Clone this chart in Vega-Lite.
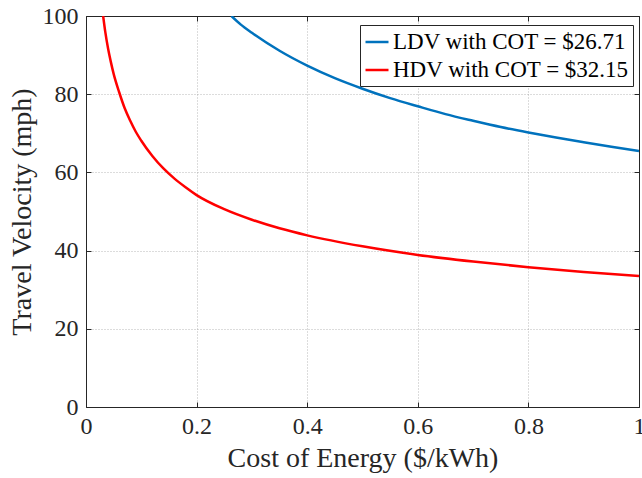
{
  "$schema": "https://vega.github.io/schema/vega-lite/v6.json",
  "width": 553,
  "height": 391,
  "autosize": {"type": "none"},
  "padding": {"left": 86, "top": 16, "right": 3, "bottom": 71},
  "background": "white",
  "config": {"font": "Liberation Serif", "view": {"stroke": null}},
  "data": {"values": [
    {"series": "LDV with COT = $26.71", "cost": 0.263, "velocity": 100},
    {"series": "LDV with COT = $26.71", "cost": 0.28, "velocity": 97.8},
    {"series": "LDV with COT = $26.71", "cost": 0.3, "velocity": 95.7},
    {"series": "LDV with COT = $26.71", "cost": 0.35, "velocity": 91.1},
    {"series": "LDV with COT = $26.71", "cost": 0.4, "velocity": 87.3},
    {"series": "LDV with COT = $26.71", "cost": 0.45, "velocity": 84.1},
    {"series": "LDV with COT = $26.71", "cost": 0.5, "velocity": 81.4},
    {"series": "LDV with COT = $26.71", "cost": 0.55, "velocity": 79.0},
    {"series": "LDV with COT = $26.71", "cost": 0.6, "velocity": 76.9},
    {"series": "LDV with COT = $26.71", "cost": 0.65, "velocity": 74.9},
    {"series": "LDV with COT = $26.71", "cost": 0.7, "velocity": 73.2},
    {"series": "LDV with COT = $26.71", "cost": 0.75, "velocity": 71.6},
    {"series": "LDV with COT = $26.71", "cost": 0.8, "velocity": 70.2},
    {"series": "LDV with COT = $26.71", "cost": 0.85, "velocity": 68.9},
    {"series": "LDV with COT = $26.71", "cost": 0.9, "velocity": 67.7},
    {"series": "LDV with COT = $26.71", "cost": 0.95, "velocity": 66.55},
    {"series": "LDV with COT = $26.71", "cost": 1.0, "velocity": 65.5},
    {"series": "HDV with COT = $32.15", "cost": 0.031, "velocity": 100},
    {"series": "HDV with COT = $32.15", "cost": 0.035, "velocity": 95.8},
    {"series": "HDV with COT = $32.15", "cost": 0.04, "velocity": 91.6},
    {"series": "HDV with COT = $32.15", "cost": 0.045, "velocity": 88.2},
    {"series": "HDV with COT = $32.15", "cost": 0.05, "velocity": 85.2},
    {"series": "HDV with COT = $32.15", "cost": 0.06, "velocity": 80.5},
    {"series": "HDV with COT = $32.15", "cost": 0.07, "velocity": 76.4},
    {"series": "HDV with COT = $32.15", "cost": 0.08, "velocity": 73.2},
    {"series": "HDV with COT = $32.15", "cost": 0.09, "velocity": 70.4},
    {"series": "HDV with COT = $32.15", "cost": 0.1, "velocity": 68.1},
    {"series": "HDV with COT = $32.15", "cost": 0.12, "velocity": 64.2},
    {"series": "HDV with COT = $32.15", "cost": 0.14, "velocity": 61.0},
    {"series": "HDV with COT = $32.15", "cost": 0.16, "velocity": 58.4},
    {"series": "HDV with COT = $32.15", "cost": 0.18, "velocity": 56.2},
    {"series": "HDV with COT = $32.15", "cost": 0.2, "velocity": 54.2},
    {"series": "HDV with COT = $32.15", "cost": 0.25, "velocity": 50.6},
    {"series": "HDV with COT = $32.15", "cost": 0.3, "velocity": 47.9},
    {"series": "HDV with COT = $32.15", "cost": 0.35, "velocity": 45.7},
    {"series": "HDV with COT = $32.15", "cost": 0.4, "velocity": 43.9},
    {"series": "HDV with COT = $32.15", "cost": 0.5, "velocity": 41.1},
    {"series": "HDV with COT = $32.15", "cost": 0.6, "velocity": 38.9},
    {"series": "HDV with COT = $32.15", "cost": 0.7, "velocity": 37.2},
    {"series": "HDV with COT = $32.15", "cost": 0.8, "velocity": 35.75},
    {"series": "HDV with COT = $32.15", "cost": 0.9, "velocity": 34.55},
    {"series": "HDV with COT = $32.15", "cost": 1.0, "velocity": 33.5}
  ]},
  "layer": [
    {
      "mark": {"type": "line", "strokeWidth": 2.5, "interpolate": "monotone", "clip": true},
      "encoding": {
        "x": {
          "field": "cost", "type": "quantitative",
          "scale": {"domain": [0, 1], "nice": false},
          "axis": {
            "values": [0, 0.2, 0.4, 0.6, 0.8, 1],
            "format": "~g",
            "title": "Cost of Energy ($/kWh)",
            "titleFont": "Liberation Serif", "titleFontSize": 28, "titleFontWeight": "normal",
            "titleColor": "#262626", "titlePadding": 6,
            "labelFont": "Liberation Serif", "labelFontSize": 24, "labelColor": "#262626",
            "labelPadding": 12, "labelFlush": false,
            "domainColor": "#262626", "domainWidth": 1,
            "tickColor": "#262626", "tickSize": -5,
            "grid": true, "gridColor": "#888888", "gridOpacity": 0.6, "gridDash": [1, 2]
          }
        },
        "y": {
          "field": "velocity", "type": "quantitative",
          "scale": {"domain": [0, 100], "nice": false},
          "axis": {
            "values": [0, 20, 40, 60, 80, 100],
            "title": "Travel Velocity (mph)",
            "titleFont": "Liberation Serif", "titleFontSize": 28, "titleFontWeight": "normal",
            "titleColor": "#262626", "titlePadding": 6,
            "labelFont": "Liberation Serif", "labelFontSize": 24, "labelColor": "#262626",
            "labelPadding": 13, "labelFlush": false,
            "domainColor": "#262626", "domainWidth": 1,
            "tickColor": "#262626", "tickSize": -5,
            "grid": true, "gridColor": "#888888", "gridOpacity": 0.6, "gridDash": [1, 2]
          }
        },
        "color": {
          "field": "series", "type": "nominal",
          "scale": {"domain": ["LDV with COT = $26.71", "HDV with COT = $32.15"], "range": ["#0072BD", "#FF0000"]},
          "legend": {
            "orient": "none", "legendX": 274, "legendY": 9,
            "title": null,
            "labelFont": "Liberation Serif", "labelFontSize": 23, "labelColor": "#000000",
            "labelOffset": 3, "labelLimit": 400,
            "symbolType": "stroke", "symbolSize": 529, "symbolStrokeWidth": 2.5,
            "rowPadding": 3, "padding": 4,
            "fillColor": "white", "strokeColor": "#262626"
          }
        }
      }
    },
    {
      "mark": {"type": "line", "opacity": 0},
      "encoding": {
        "x": {
          "field": "cost", "type": "quantitative",
          "axis": {"orient": "top", "values": [0, 0.2, 0.4, 0.6, 0.8, 1], "labels": false, "title": null,
            "grid": false, "domainColor": "#262626", "tickColor": "#262626", "tickSize": -5}
        },
        "y": {
          "field": "velocity", "type": "quantitative",
          "axis": {"orient": "right", "values": [0, 20, 40, 60, 80, 100], "labels": false, "title": null,
            "grid": false, "domainColor": "#262626", "tickColor": "#262626", "tickSize": -5}
        },
        "detail": {"field": "series", "type": "nominal"}
      }
    }
  ],
  "resolve": {"axis": {"x": "independent", "y": "independent"}}
}
